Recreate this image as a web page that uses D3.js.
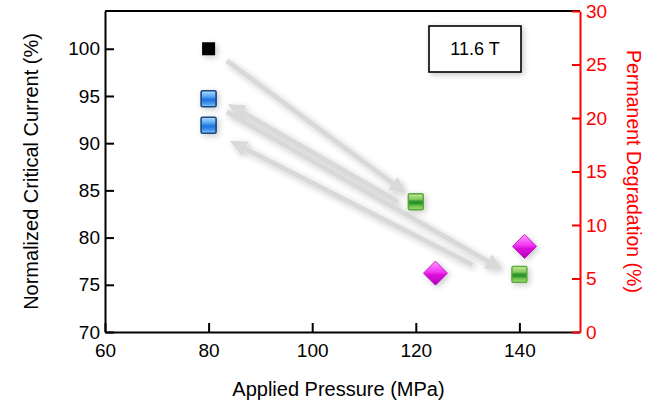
<!DOCTYPE html>
<html>
<head>
<meta charset="utf-8">
<script src="https://cdn.jsdelivr.net/npm/d3@7"></script>
<style>
  html, body { margin: 0; padding: 0; background: #fff; }
  svg { display: block; font-family: "Liberation Sans", Arial, sans-serif; }
</style>
</head>
<body>
<svg id="chart" width="646" height="403"></svg>
<script>
// Critical current measured at 80 MPa before loading and after each release
const initialPressure = [80];
const initialIc = [100];
const releasedPressure = [80, 80];
const releasedIc = [94.7, 91.9];
// Critical current measured under load
const loadedPressure = [120, 140];
const loadedIc = [83.8, 76.1];
// Permanent degradation (right axis)
const degradationPressure = [123.8, 141.0];
const degradationPct = [5.5, 8.0];

// Loading sequence arrows, [fromPressure, fromIc, toPressure, toIc]
const loadPathFrom = [[83.5, 98.74], [116.6, 83.77], [83.5, 93.33], [131.0, 77.10]];
const loadPathTo   = [[118.2, 84.67], [83.7, 94.15], [136.8, 76.57], [84.1, 90.23]];

const xTicks = [60, 80, 100, 120, 140];
const yLeftTicks = [70, 75, 80, 85, 90, 95, 100];
const yRightTicks = [0, 5, 10, 15, 20, 25, 30];
const fieldLabel = "11.6 T";

const W = 646, H = 403;
const margin = { top: 11, right: 66, bottom: 71, left: 105 };
const svg = d3.select("#chart");

const x = d3.scaleLinear().domain([60, 151.7]).range([margin.left, W - margin.right]);
const yL = d3.scaleLinear().domain([70, 104]).range([H - margin.bottom, margin.top]);
const yR = d3.scaleLinear().domain([0, 30]).range([H - margin.bottom, margin.top]);

// ---- defs: shadows and glossy gradients
const defs = svg.append("defs");
const shadow = defs.append("filter").attr("id", "shadow")
  .attr("x", "-60%").attr("y", "-60%").attr("width", "220%").attr("height", "220%");
shadow.append("feGaussianBlur").attr("in", "SourceAlpha").attr("stdDeviation", 3);
shadow.append("feOffset").attr("dx", 2).attr("dy", 2).attr("result", "blur");
shadow.append("feComponentTransfer").call(c => c.append("feFuncA").attr("type", "linear").attr("slope", 0.22));
const merge = shadow.append("feMerge");
merge.append("feMergeNode");
merge.append("feMergeNode").attr("in", "SourceGraphic");

function vGrad(id, stops) {
  const g = defs.append("linearGradient").attr("id", id)
    .attr("x1", 0).attr("y1", 0).attr("x2", 0).attr("y2", 1);
  stops.forEach(([o, c]) => g.append("stop").attr("offset", o).attr("stop-color", c));
}
vGrad("blueGrad", [[0, "#b8dcff"], [0.35, "#5aa8f2"], [0.55, "#1c74dc"], [0.75, "#3a8ee8"], [1, "#8cc6fb"]]);
vGrad("greenGrad", [[0, "#c4ea9a"], [0.35, "#86c95a"], [0.48, "#2d942d"], [0.62, "#2d942d"], [0.75, "#6cbf45"], [1, "#a4dc74"]]);
vGrad("magentaGrad", [[0, "#ff9cff"], [0.45, "#f236f2"], [0.6, "#d80cd8"], [1, "#b400bc"]]);

// ---- axes
const gx = svg.append("g").attr("transform", `translate(0,${H - margin.bottom})`)
  .call(d3.axisBottom(x).tickValues(xTicks).tickSizeInner(-9).tickSizeOuter(0).tickPadding(12));
const gl = svg.append("g").attr("transform", `translate(${margin.left},0)`)
  .call(d3.axisLeft(yL).tickValues(yLeftTicks).tickSizeInner(-9).tickSizeOuter(0).tickPadding(5));
// top frame line
svg.append("line")
  .attr("x1", margin.left).attr("x2", W - margin.right)
  .attr("y1", margin.top).attr("y2", margin.top)
  .attr("stroke", "#000").attr("stroke-width", 2);
const gr = svg.append("g").attr("transform", `translate(${W - margin.right},0)`)
  .call(d3.axisRight(yR).tickValues(yRightTicks).tickSizeInner(-8).tickSizeOuter(0).tickPadding(6));

[gx, gl].forEach(g => {
  g.selectAll("path, line").attr("stroke", "#000").attr("stroke-width", 2);
  g.selectAll("text").attr("fill", "#000").style("font-size", "19px")
    .style("font-family", "'Liberation Sans', Arial, sans-serif");
});
gr.selectAll("path, line").attr("stroke", "#ff0000").attr("stroke-width", 2);
gr.selectAll("text").attr("fill", "#ff0000").style("font-size", "19px")
  .style("font-family", "'Liberation Sans', Arial, sans-serif");

// axis titles
svg.append("text")
  .attr("x", (margin.left + W - margin.right) / 2 - 4).attr("y", 396)
  .attr("text-anchor", "middle").style("font-size", "20px").attr("fill", "#000")
  .text("Applied Pressure (MPa)");
svg.append("text")
  .attr("transform", `translate(31,${(margin.top + H - margin.bottom) / 2}) rotate(-90)`)
  .attr("dy", "0.35em").attr("text-anchor", "middle").style("font-size", "20px").attr("fill", "#000")
  .text("Normalized Critical Current (%)");
svg.append("text")
  .attr("transform", `translate(634,${(margin.top + H - margin.bottom) / 2}) rotate(90)`)
  .attr("dy", "0.35em").attr("text-anchor", "middle").style("font-size", "19.5px").attr("fill", "#ff0000")
  .text("Permanent Degradation (%)");

// ---- loading-sequence arrows
const headLen = 17, headHalf = 8;
const arrows = svg.append("g").attr("filter", "url(#shadow)");
loadPathFrom.forEach((from, i) => {
  const to = loadPathTo[i];
  const x1 = x(from[0]), y1 = yL(from[1]);
  const x2 = x(to[0]), y2 = yL(to[1]);
  const dx = x2 - x1, dy = y2 - y1, len = Math.hypot(dx, dy);
  const ux = dx / len, uy = dy / len;
  const bx = x2 - ux * headLen, by = y2 - uy * headLen;
  arrows.append("line")
    .attr("x1", x1).attr("y1", y1).attr("x2", bx + ux * 2).attr("y2", by + uy * 2)
    .attr("stroke", "#d9d9d9").attr("stroke-width", 5);
  arrows.append("path")
    .attr("d", `M${x2},${y2}L${bx - uy * headHalf},${by + ux * headHalf}L${bx + uy * headHalf},${by - ux * headHalf}Z`)
    .attr("fill", "#d9d9d9");
});

// ---- markers
const marks = svg.append("g").attr("filter", "url(#shadow)");
marks.selectAll("rect.initial").data(d3.zip(initialPressure, initialIc)).join("rect")
  .attr("class", "initial")
  .attr("x", d => x(d[0]) - 6.5).attr("y", d => yL(d[1]) - 6.5)
  .attr("width", 13).attr("height", 13).attr("fill", "#000");

marks.selectAll("rect.released").data(d3.zip(releasedPressure, releasedIc)).join("rect")
  .attr("class", "released")
  .attr("x", d => x(d[0]) - 7.5).attr("y", d => yL(d[1]) - 8)
  .attr("width", 15).attr("height", 16).attr("rx", 1.5)
  .attr("fill", "url(#blueGrad)").attr("stroke", "#1b4680").attr("stroke-width", 1.6);

marks.selectAll("rect.loaded").data(d3.zip(loadedPressure, loadedIc)).join("rect")
  .attr("class", "loaded")
  .attr("x", d => x(d[0]) - 7.5).attr("y", d => yL(d[1]) - 8)
  .attr("width", 15).attr("height", 16).attr("rx", 1.5)
  .attr("fill", "url(#greenGrad)").attr("stroke", "#5aa83a").attr("stroke-width", 1.4);

const r = 12;
marks.selectAll("path.degradation").data(d3.zip(degradationPressure, degradationPct)).join("path")
  .attr("class", "degradation")
  .attr("transform", d => `translate(${x(d[0])},${yR(d[1])})`)
  .attr("d", `M0,${-r}L${r},0L0,${r}L${-r},0Z`)
  .attr("fill", "url(#magentaGrad)").attr("stroke", "#c21ac8").attr("stroke-width", 1);

// ---- field label box
const box = svg.append("g").attr("transform", "translate(475,49)");
box.append("rect")
  .attr("x", -46).attr("y", -23).attr("width", 92).attr("height", 46)
  .attr("fill", "#fff").attr("stroke", "#000").attr("stroke-width", 1.6)
  .attr("filter", "url(#shadow)");
box.append("text").attr("text-anchor", "middle").attr("dy", "0.35em")
  .style("font-size", "18px").attr("fill", "#000").text(fieldLabel);
</script>
</body>
</html>
